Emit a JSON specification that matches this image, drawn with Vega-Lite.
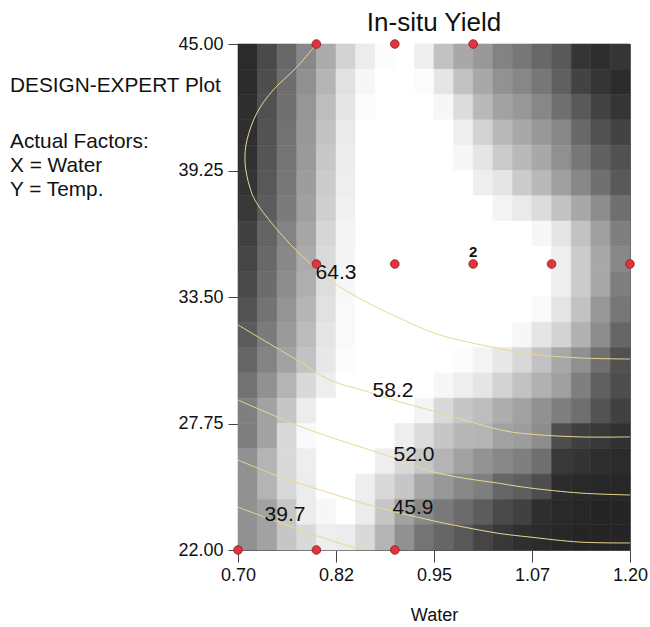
{
"$schema": "https://vega.github.io/schema/vega-lite/v6.json",
"width": 392, "height": 506,
"autosize": "none",
"padding": {"left": 238, "top": 44, "right": 20, "bottom": 77},
"config": {"font": "Liberation Sans", "view": {"stroke": "#666", "strokeWidth": 1}},
"title": {"text": "In-situ Yield", "fontSize": 26, "fontWeight": "normal", "anchor": "middle", "frame": "group", "baseline": "alphabetic", "offset": -22, "color": "#111"},
"datasets": {
"cells": [
{"water":0.7125,"temp":44.425,"shade":45},{"water":0.7375,"temp":44.425,"shade":80},{"water":0.7625,"temp":44.425,"shade":112},{"water":0.7875,"temp":44.425,"shade":145},{"water":0.8125,"temp":44.425,"shade":178},{"water":0.8375,"temp":44.425,"shade":215},{"water":0.8625,"temp":44.425,"shade":238},{"water":0.8875,"temp":44.425,"shade":252},{"water":0.9125,"temp":44.425,"shade":255},{"water":0.9375,"temp":44.425,"shade":240},{"water":0.9625,"temp":44.425,"shade":200},{"water":0.9875,"temp":44.425,"shade":176},{"water":1.0125,"temp":44.425,"shade":160},{"water":1.0375,"temp":44.425,"shade":140},{"water":1.0625,"temp":44.425,"shade":128},{"water":1.0875,"temp":44.425,"shade":112},{"water":1.1125,"temp":44.425,"shade":96},{"water":1.1375,"temp":44.425,"shade":56},{"water":1.1625,"temp":44.425,"shade":48},{"water":1.1875,"temp":44.425,"shade":56},
{"water":0.7125,"temp":43.275,"shade":45},{"water":0.7375,"temp":43.275,"shade":85},{"water":0.7625,"temp":43.275,"shade":118},{"water":0.7875,"temp":43.275,"shade":152},{"water":0.8125,"temp":43.275,"shade":188},{"water":0.8375,"temp":43.275,"shade":228},{"water":0.8625,"temp":43.275,"shade":248},{"water":0.8875,"temp":43.275,"shade":255},{"water":0.9125,"temp":43.275,"shade":255},{"water":0.9375,"temp":43.275,"shade":252},{"water":0.9625,"temp":43.275,"shade":232},{"water":0.9875,"temp":43.275,"shade":200},{"water":1.0125,"temp":43.275,"shade":176},{"water":1.0375,"temp":43.275,"shade":154},{"water":1.0625,"temp":43.275,"shade":144},{"water":1.0875,"temp":43.275,"shade":128},{"water":1.1125,"temp":43.275,"shade":104},{"water":1.1375,"temp":43.275,"shade":72},{"water":1.1625,"temp":43.275,"shade":56},{"water":1.1875,"temp":43.275,"shade":45},
{"water":0.7125,"temp":42.125,"shade":48},{"water":0.7375,"temp":42.125,"shade":88},{"water":0.7625,"temp":42.125,"shade":120},{"water":0.7875,"temp":42.125,"shade":158},{"water":0.8125,"temp":42.125,"shade":195},{"water":0.8375,"temp":42.125,"shade":232},{"water":0.8625,"temp":42.125,"shade":252},{"water":0.8875,"temp":42.125,"shade":255},{"water":0.9125,"temp":42.125,"shade":255},{"water":0.9375,"temp":42.125,"shade":255},{"water":0.9625,"temp":42.125,"shade":248},{"water":0.9875,"temp":42.125,"shade":224},{"water":1.0125,"temp":42.125,"shade":192},{"water":1.0375,"temp":42.125,"shade":170},{"water":1.0625,"temp":42.125,"shade":160},{"water":1.0875,"temp":42.125,"shade":144},{"water":1.1125,"temp":42.125,"shade":120},{"water":1.1375,"temp":42.125,"shade":96},{"water":1.1625,"temp":42.125,"shade":72},{"water":1.1875,"temp":42.125,"shade":56},
{"water":0.7125,"temp":40.975,"shade":50},{"water":0.7375,"temp":40.975,"shade":90},{"water":0.7625,"temp":40.975,"shade":122},{"water":0.7875,"temp":40.975,"shade":160},{"water":0.8125,"temp":40.975,"shade":200},{"water":0.8375,"temp":40.975,"shade":236},{"water":0.8625,"temp":40.975,"shade":255},{"water":0.8875,"temp":40.975,"shade":255},{"water":0.9125,"temp":40.975,"shade":255},{"water":0.9375,"temp":40.975,"shade":255},{"water":0.9625,"temp":40.975,"shade":255},{"water":0.9875,"temp":40.975,"shade":240},{"water":1.0125,"temp":40.975,"shade":216},{"water":1.0375,"temp":40.975,"shade":192},{"water":1.0625,"temp":40.975,"shade":176},{"water":1.0875,"temp":40.975,"shade":160},{"water":1.1125,"temp":40.975,"shade":144},{"water":1.1375,"temp":40.975,"shade":112},{"water":1.1625,"temp":40.975,"shade":88},{"water":1.1875,"temp":40.975,"shade":72},
{"water":0.7125,"temp":39.825,"shade":52},{"water":0.7375,"temp":39.825,"shade":92},{"water":0.7625,"temp":39.825,"shade":125},{"water":0.7875,"temp":39.825,"shade":162},{"water":0.8125,"temp":39.825,"shade":205},{"water":0.8375,"temp":39.825,"shade":238},{"water":0.8625,"temp":39.825,"shade":255},{"water":0.8875,"temp":39.825,"shade":255},{"water":0.9125,"temp":39.825,"shade":255},{"water":0.9375,"temp":39.825,"shade":255},{"water":0.9625,"temp":39.825,"shade":255},{"water":0.9875,"temp":39.825,"shade":248},{"water":1.0125,"temp":39.825,"shade":232},{"water":1.0375,"temp":39.825,"shade":208},{"water":1.0625,"temp":39.825,"shade":192},{"water":1.0875,"temp":39.825,"shade":176},{"water":1.1125,"temp":39.825,"shade":152},{"water":1.1375,"temp":39.825,"shade":128},{"water":1.1625,"temp":39.825,"shade":104},{"water":1.1875,"temp":39.825,"shade":88},
{"water":0.7125,"temp":38.675,"shade":55},{"water":0.7375,"temp":38.675,"shade":95},{"water":0.7625,"temp":38.675,"shade":128},{"water":0.7875,"temp":38.675,"shade":165},{"water":0.8125,"temp":38.675,"shade":208},{"water":0.8375,"temp":38.675,"shade":240},{"water":0.8625,"temp":38.675,"shade":255},{"water":0.8875,"temp":38.675,"shade":255},{"water":0.9125,"temp":38.675,"shade":255},{"water":0.9375,"temp":38.675,"shade":255},{"water":0.9625,"temp":38.675,"shade":255},{"water":0.9875,"temp":38.675,"shade":255},{"water":1.0125,"temp":38.675,"shade":240},{"water":1.0375,"temp":38.675,"shade":232},{"water":1.0625,"temp":38.675,"shade":208},{"water":1.0875,"temp":38.675,"shade":192},{"water":1.1125,"temp":38.675,"shade":168},{"water":1.1375,"temp":38.675,"shade":144},{"water":1.1625,"temp":38.675,"shade":120},{"water":1.1875,"temp":38.675,"shade":96},
{"water":0.7125,"temp":37.525,"shade":60},{"water":0.7375,"temp":37.525,"shade":100},{"water":0.7625,"temp":37.525,"shade":132},{"water":0.7875,"temp":37.525,"shade":168},{"water":0.8125,"temp":37.525,"shade":212},{"water":0.8375,"temp":37.525,"shade":242},{"water":0.8625,"temp":37.525,"shade":255},{"water":0.8875,"temp":37.525,"shade":255},{"water":0.9125,"temp":37.525,"shade":255},{"water":0.9375,"temp":37.525,"shade":255},{"water":0.9625,"temp":37.525,"shade":255},{"water":0.9875,"temp":37.525,"shade":255},{"water":1.0125,"temp":37.525,"shade":255},{"water":1.0375,"temp":37.525,"shade":245},{"water":1.0625,"temp":37.525,"shade":236},{"water":1.0875,"temp":37.525,"shade":224},{"water":1.1125,"temp":37.525,"shade":200},{"water":1.1375,"temp":37.525,"shade":176},{"water":1.1625,"temp":37.525,"shade":150},{"water":1.1875,"temp":37.525,"shade":120},
{"water":0.7125,"temp":36.375,"shade":70},{"water":0.7375,"temp":36.375,"shade":108},{"water":0.7625,"temp":36.375,"shade":140},{"water":0.7875,"temp":36.375,"shade":174},{"water":0.8125,"temp":36.375,"shade":218},{"water":0.8375,"temp":36.375,"shade":245},{"water":0.8625,"temp":36.375,"shade":255},{"water":0.8875,"temp":36.375,"shade":255},{"water":0.9125,"temp":36.375,"shade":255},{"water":0.9375,"temp":36.375,"shade":255},{"water":0.9625,"temp":36.375,"shade":255},{"water":0.9875,"temp":36.375,"shade":255},{"water":1.0125,"temp":36.375,"shade":255},{"water":1.0375,"temp":36.375,"shade":255},{"water":1.0625,"temp":36.375,"shade":255},{"water":1.0875,"temp":36.375,"shade":248},{"water":1.1125,"temp":36.375,"shade":232},{"water":1.1375,"temp":36.375,"shade":200},{"water":1.1625,"temp":36.375,"shade":168},{"water":1.1875,"temp":36.375,"shade":136},
{"water":0.7125,"temp":35.225,"shade":75},{"water":0.7375,"temp":35.225,"shade":112},{"water":0.7625,"temp":35.225,"shade":145},{"water":0.7875,"temp":35.225,"shade":178},{"water":0.8125,"temp":35.225,"shade":222},{"water":0.8375,"temp":35.225,"shade":246},{"water":0.8625,"temp":35.225,"shade":255},{"water":0.8875,"temp":35.225,"shade":255},{"water":0.9125,"temp":35.225,"shade":255},{"water":0.9375,"temp":35.225,"shade":255},{"water":0.9625,"temp":35.225,"shade":255},{"water":0.9875,"temp":35.225,"shade":255},{"water":1.0125,"temp":35.225,"shade":255},{"water":1.0375,"temp":35.225,"shade":255},{"water":1.0625,"temp":35.225,"shade":255},{"water":1.0875,"temp":35.225,"shade":255},{"water":1.1125,"temp":35.225,"shade":240},{"water":1.1375,"temp":35.225,"shade":208},{"water":1.1625,"temp":35.225,"shade":176},{"water":1.1875,"temp":35.225,"shade":144},
{"water":0.7125,"temp":34.075,"shade":80},{"water":0.7375,"temp":34.075,"shade":116},{"water":0.7625,"temp":34.075,"shade":150},{"water":0.7875,"temp":34.075,"shade":182},{"water":0.8125,"temp":34.075,"shade":225},{"water":0.8375,"temp":34.075,"shade":248},{"water":0.8625,"temp":34.075,"shade":255},{"water":0.8875,"temp":34.075,"shade":255},{"water":0.9125,"temp":34.075,"shade":255},{"water":0.9375,"temp":34.075,"shade":255},{"water":0.9625,"temp":34.075,"shade":255},{"water":0.9875,"temp":34.075,"shade":255},{"water":1.0125,"temp":34.075,"shade":255},{"water":1.0375,"temp":34.075,"shade":255},{"water":1.0625,"temp":34.075,"shade":255},{"water":1.0875,"temp":34.075,"shade":255},{"water":1.1125,"temp":34.075,"shade":240},{"water":1.1375,"temp":34.075,"shade":208},{"water":1.1625,"temp":34.075,"shade":176},{"water":1.1875,"temp":34.075,"shade":136},
{"water":0.7125,"temp":32.925,"shade":90},{"water":0.7375,"temp":32.925,"shade":124},{"water":0.7625,"temp":32.925,"shade":156},{"water":0.7875,"temp":32.925,"shade":188},{"water":0.8125,"temp":32.925,"shade":228},{"water":0.8375,"temp":32.925,"shade":250},{"water":0.8625,"temp":32.925,"shade":255},{"water":0.8875,"temp":32.925,"shade":255},{"water":0.9125,"temp":32.925,"shade":255},{"water":0.9375,"temp":32.925,"shade":255},{"water":0.9625,"temp":32.925,"shade":255},{"water":0.9875,"temp":32.925,"shade":255},{"water":1.0125,"temp":32.925,"shade":255},{"water":1.0375,"temp":32.925,"shade":255},{"water":1.0625,"temp":32.925,"shade":255},{"water":1.0875,"temp":32.925,"shade":250},{"water":1.1125,"temp":32.925,"shade":232},{"water":1.1375,"temp":32.925,"shade":200},{"water":1.1625,"temp":32.925,"shade":160},{"water":1.1875,"temp":32.925,"shade":128},
{"water":0.7125,"temp":31.775,"shade":100},{"water":0.7375,"temp":31.775,"shade":132},{"water":0.7625,"temp":31.775,"shade":162},{"water":0.7875,"temp":31.775,"shade":194},{"water":0.8125,"temp":31.775,"shade":232},{"water":0.8375,"temp":31.775,"shade":250},{"water":0.8625,"temp":31.775,"shade":255},{"water":0.8875,"temp":31.775,"shade":255},{"water":0.9125,"temp":31.775,"shade":255},{"water":0.9375,"temp":31.775,"shade":255},{"water":0.9625,"temp":31.775,"shade":255},{"water":0.9875,"temp":31.775,"shade":255},{"water":1.0125,"temp":31.775,"shade":255},{"water":1.0375,"temp":31.775,"shade":255},{"water":1.0625,"temp":31.775,"shade":248},{"water":1.0875,"temp":31.775,"shade":232},{"water":1.1125,"temp":31.775,"shade":216},{"water":1.1375,"temp":31.775,"shade":184},{"water":1.1625,"temp":31.775,"shade":150},{"water":1.1875,"temp":31.775,"shade":110},
{"water":0.7125,"temp":30.625,"shade":110},{"water":0.7375,"temp":30.625,"shade":140},{"water":0.7625,"temp":30.625,"shade":170},{"water":0.7875,"temp":30.625,"shade":200},{"water":0.8125,"temp":30.625,"shade":235},{"water":0.8375,"temp":30.625,"shade":252},{"water":0.8625,"temp":30.625,"shade":255},{"water":0.8875,"temp":30.625,"shade":255},{"water":0.9125,"temp":30.625,"shade":255},{"water":0.9375,"temp":30.625,"shade":255},{"water":0.9625,"temp":30.625,"shade":255},{"water":0.9875,"temp":30.625,"shade":252},{"water":1.0125,"temp":30.625,"shade":245},{"water":1.0375,"temp":30.625,"shade":235},{"water":1.0625,"temp":30.625,"shade":220},{"water":1.0875,"temp":30.625,"shade":200},{"water":1.1125,"temp":30.625,"shade":176},{"water":1.1375,"temp":30.625,"shade":152},{"water":1.1625,"temp":30.625,"shade":120},{"water":1.1875,"temp":30.625,"shade":88},
{"water":0.7125,"temp":29.475,"shade":122},{"water":0.7375,"temp":29.475,"shade":153},{"water":0.7625,"temp":29.475,"shade":187},{"water":0.7875,"temp":29.475,"shade":221},{"water":0.8125,"temp":29.475,"shade":240},{"water":0.8375,"temp":29.475,"shade":255},{"water":0.8625,"temp":29.475,"shade":255},{"water":0.8875,"temp":29.475,"shade":255},{"water":0.9125,"temp":29.475,"shade":255},{"water":0.9375,"temp":29.475,"shade":255},{"water":0.9625,"temp":29.475,"shade":248},{"water":0.9875,"temp":29.475,"shade":240},{"water":1.0125,"temp":29.475,"shade":232},{"water":1.0375,"temp":29.475,"shade":216},{"water":1.0625,"temp":29.475,"shade":200},{"water":1.0875,"temp":29.475,"shade":184},{"water":1.1125,"temp":29.475,"shade":168},{"water":1.1375,"temp":29.475,"shade":136},{"water":1.1625,"temp":29.475,"shade":104},{"water":1.1875,"temp":29.475,"shade":85},
{"water":0.7125,"temp":28.325,"shade":136},{"water":0.7375,"temp":28.325,"shade":170},{"water":0.7625,"temp":28.325,"shade":204},{"water":0.7875,"temp":28.325,"shade":238},{"water":0.8125,"temp":28.325,"shade":255},{"water":0.8375,"temp":28.325,"shade":255},{"water":0.8625,"temp":28.325,"shade":255},{"water":0.8875,"temp":28.325,"shade":255},{"water":0.9125,"temp":28.325,"shade":255},{"water":0.9375,"temp":28.325,"shade":245},{"water":0.9625,"temp":28.325,"shade":221},{"water":0.9875,"temp":28.325,"shade":204},{"water":1.0125,"temp":28.325,"shade":195},{"water":1.0375,"temp":28.325,"shade":180},{"water":1.0625,"temp":28.325,"shade":170},{"water":1.0875,"temp":28.325,"shade":153},{"water":1.1125,"temp":28.325,"shade":136},{"water":1.1375,"temp":28.325,"shade":119},{"water":1.1625,"temp":28.325,"shade":90},{"water":1.1875,"temp":28.325,"shade":70},
{"water":0.7125,"temp":27.175,"shade":136},{"water":0.7375,"temp":27.175,"shade":170},{"water":0.7625,"temp":27.175,"shade":221},{"water":0.7875,"temp":27.175,"shade":250},{"water":0.8125,"temp":27.175,"shade":255},{"water":0.8375,"temp":27.175,"shade":255},{"water":0.8625,"temp":27.175,"shade":255},{"water":0.8875,"temp":27.175,"shade":255},{"water":0.9125,"temp":27.175,"shade":240},{"water":0.9375,"temp":27.175,"shade":224},{"water":0.9625,"temp":27.175,"shade":204},{"water":0.9875,"temp":27.175,"shade":190},{"water":1.0125,"temp":27.175,"shade":187},{"water":1.0375,"temp":27.175,"shade":170},{"water":1.0625,"temp":27.175,"shade":165},{"water":1.0875,"temp":27.175,"shade":150},{"water":1.1125,"temp":27.175,"shade":85},{"water":1.1375,"temp":27.175,"shade":68},{"water":1.1625,"temp":27.175,"shade":60},{"water":1.1875,"temp":27.175,"shade":52},
{"water":0.7125,"temp":26.025,"shade":153},{"water":0.7375,"temp":26.025,"shade":187},{"water":0.7625,"temp":26.025,"shade":221},{"water":0.7875,"temp":26.025,"shade":240},{"water":0.8125,"temp":26.025,"shade":255},{"water":0.8375,"temp":26.025,"shade":255},{"water":0.8625,"temp":26.025,"shade":255},{"water":0.8875,"temp":26.025,"shade":240},{"water":0.9125,"temp":26.025,"shade":221},{"water":0.9375,"temp":26.025,"shade":205},{"water":0.9625,"temp":26.025,"shade":187},{"water":0.9875,"temp":26.025,"shade":170},{"water":1.0125,"temp":26.025,"shade":155},{"water":1.0375,"temp":26.025,"shade":145},{"water":1.0625,"temp":26.025,"shade":136},{"water":1.0875,"temp":26.025,"shade":119},{"water":1.1125,"temp":26.025,"shade":60},{"water":1.1375,"temp":26.025,"shade":55},{"water":1.1625,"temp":26.025,"shade":48},{"water":1.1875,"temp":26.025,"shade":45},
{"water":0.7125,"temp":24.875,"shade":153},{"water":0.7375,"temp":24.875,"shade":187},{"water":0.7625,"temp":24.875,"shade":221},{"water":0.7875,"temp":24.875,"shade":238},{"water":0.8125,"temp":24.875,"shade":255},{"water":0.8375,"temp":24.875,"shade":255},{"water":0.8625,"temp":24.875,"shade":240},{"water":0.8875,"temp":24.875,"shade":221},{"water":0.9125,"temp":24.875,"shade":204},{"water":0.9375,"temp":24.875,"shade":175},{"water":0.9625,"temp":24.875,"shade":160},{"water":0.9875,"temp":24.875,"shade":145},{"water":1.0125,"temp":24.875,"shade":135},{"water":1.0375,"temp":24.875,"shade":110},{"water":1.0625,"temp":24.875,"shade":102},{"water":1.0875,"temp":24.875,"shade":85},{"water":1.1125,"temp":24.875,"shade":45},{"water":1.1375,"temp":24.875,"shade":42},{"water":1.1625,"temp":24.875,"shade":40},{"water":1.1875,"temp":24.875,"shade":40},
{"water":0.7125,"temp":23.725,"shade":153},{"water":0.7375,"temp":23.725,"shade":170},{"water":0.7625,"temp":23.725,"shade":204},{"water":0.7875,"temp":23.725,"shade":238},{"water":0.8125,"temp":23.725,"shade":248},{"water":0.8375,"temp":23.725,"shade":255},{"water":0.8625,"temp":23.725,"shade":238},{"water":0.8875,"temp":23.725,"shade":204},{"water":0.9125,"temp":23.725,"shade":170},{"water":0.9375,"temp":23.725,"shade":145},{"water":0.9625,"temp":23.725,"shade":130},{"water":0.9875,"temp":23.725,"shade":115},{"water":1.0125,"temp":23.725,"shade":100},{"water":1.0375,"temp":23.725,"shade":80},{"water":1.0625,"temp":23.725,"shade":70},{"water":1.0875,"temp":23.725,"shade":48},{"water":1.1125,"temp":23.725,"shade":42},{"water":1.1375,"temp":23.725,"shade":40},{"water":1.1625,"temp":23.725,"shade":38},{"water":1.1875,"temp":23.725,"shade":38},
{"water":0.7125,"temp":22.575,"shade":153},{"water":0.7375,"temp":22.575,"shade":170},{"water":0.7625,"temp":22.575,"shade":204},{"water":0.7875,"temp":22.575,"shade":221},{"water":0.8125,"temp":22.575,"shade":240},{"water":0.8375,"temp":22.575,"shade":238},{"water":0.8625,"temp":22.575,"shade":221},{"water":0.8875,"temp":22.575,"shade":187},{"water":0.9125,"temp":22.575,"shade":153},{"water":0.9375,"temp":22.575,"shade":125},{"water":0.9625,"temp":22.575,"shade":110},{"water":0.9875,"temp":22.575,"shade":95},{"water":1.0125,"temp":22.575,"shade":75},{"water":1.0375,"temp":22.575,"shade":60},{"water":1.0625,"temp":22.575,"shade":50},{"water":1.0875,"temp":22.575,"shade":45},{"water":1.1125,"temp":22.575,"shade":40},{"water":1.1375,"temp":22.575,"shade":38},{"water":1.1625,"temp":22.575,"shade":38},{"water":1.1875,"temp":22.575,"shade":38}
],
"contours": [
{"level":"64.3","o":0,"water":0.80,"temp":45.0},{"level":"64.3","o":1,"water":0.775,"temp":43.95},{"level":"64.3","o":2,"water":0.745,"temp":42.91},{"level":"64.3","o":3,"water":0.724,"temp":41.86},{"level":"64.3","o":4,"water":0.7115,"temp":40.64},{"level":"64.3","o":5,"water":0.709,"temp":39.59},{"level":"64.3","o":6,"water":0.715,"temp":38.5},{"level":"64.3","o":7,"water":0.7255,"temp":37.68},{"level":"64.3","o":8,"water":0.7536,"temp":36.41},{"level":"64.3","o":9,"water":0.783,"temp":35.32},{"level":"64.3","o":10,"water":0.817,"temp":34.27},{"level":"64.3","o":11,"water":0.859,"temp":33.36},{"level":"64.3","o":12,"water":0.903,"temp":32.59},{"level":"64.3","o":13,"water":0.958,"temp":31.77},{"level":"64.3","o":14,"water":1.03,"temp":31.18},{"level":"64.3","o":15,"water":1.072,"temp":30.91},{"level":"64.3","o":16,"water":1.136,"temp":30.73},{"level":"64.3","o":17,"water":1.2,"temp":30.68},
{"level":"58.2","o":0,"water":0.70,"temp":32.23},{"level":"58.2","o":1,"water":0.732,"temp":31.55},{"level":"58.2","o":2,"water":0.775,"temp":30.64},{"level":"58.2","o":3,"water":0.817,"temp":29.73},{"level":"58.2","o":4,"water":0.862,"temp":29.23},{"level":"58.2","o":5,"water":0.907,"temp":28.73},{"level":"58.2","o":6,"water":0.958,"temp":28.23},{"level":"58.2","o":7,"water":1.03,"temp":27.5},{"level":"58.2","o":8,"water":1.072,"temp":27.27},{"level":"58.2","o":9,"water":1.136,"temp":27.14},{"level":"58.2","o":10,"water":1.2,"temp":27.14},
{"level":"52.0","o":0,"water":0.70,"temp":28.82},{"level":"52.0","o":1,"water":0.732,"temp":28.32},{"level":"52.0","o":2,"water":0.775,"temp":27.68},{"level":"52.0","o":3,"water":0.817,"temp":27.14},{"level":"52.0","o":4,"water":0.868,"temp":26.55},{"level":"52.0","o":5,"water":0.907,"temp":26.09},{"level":"52.0","o":6,"water":0.945,"temp":25.59},{"level":"52.0","o":7,"water":0.987,"temp":25.27},{"level":"52.0","o":8,"water":1.03,"temp":25.05},{"level":"52.0","o":9,"water":1.072,"temp":24.82},{"level":"52.0","o":10,"water":1.136,"temp":24.59},{"level":"52.0","o":11,"water":1.2,"temp":24.5},
{"level":"45.9","o":0,"water":0.70,"temp":26.09},{"level":"45.9","o":1,"water":0.754,"temp":25.32},{"level":"45.9","o":2,"water":0.817,"temp":24.59},{"level":"45.9","o":3,"water":0.881,"temp":23.91},{"level":"45.9","o":4,"water":0.945,"temp":23.36},{"level":"45.9","o":5,"water":0.987,"temp":23.05},{"level":"45.9","o":6,"water":1.03,"temp":22.77},{"level":"45.9","o":7,"water":1.072,"temp":22.59},{"level":"45.9","o":8,"water":1.136,"temp":22.36},{"level":"45.9","o":9,"water":1.2,"temp":22.32},
{"level":"39.7","o":0,"water":0.70,"temp":23.95},{"level":"39.7","o":1,"water":0.754,"temp":23.23},{"level":"39.7","o":2,"water":0.817,"temp":22.45},{"level":"39.7","o":3,"water":0.859,"temp":22.0}
],
"contourLabels": [
{"label":"64.3","water":0.825,"temp":34.57},{"label":"58.2","water":0.8977,"temp":29.23},{"label":"52.0","water":0.9245,"temp":26.3},{"label":"45.9","water":0.9232,"temp":23.91},{"label":"39.7","water":0.76,"temp":23.59}
],
"runs": [
{"water":0.8,"temp":45},{"water":0.9,"temp":45},{"water":1.0,"temp":45},{"water":0.8,"temp":35},{"water":0.9,"temp":35},{"water":1.0,"temp":35},{"water":1.1,"temp":35},{"water":1.2,"temp":35},{"water":0.7,"temp":22},{"water":0.8,"temp":22},{"water":0.9,"temp":22}
],
"replicates": [{"water":1.0,"temp":35,"count":"2"}],
"notes": [
{"text":"DESIGN-EXPERT Plot","water":0.4092,"temp":42.818},{"text":"Actual Factors:","water":0.4092,"temp":40.273},{"text":"X = Water","water":0.4092,"temp":39.182},{"text":"Y = Temp.","water":0.4092,"temp":38.091}
]
},
"layer": [
{
"data": {"name": "cells"},
"mark": {"type": "rect", "strokeWidth": 0.6},
"encoding": {
"x": {"field": "water", "type": "ordinal", "axis": null, "scale": {"paddingInner": 0, "paddingOuter": 0}},
"y": {"field": "temp", "type": "ordinal", "axis": null, "sort": "descending", "scale": {"paddingInner": 0, "paddingOuter": 0}},
"color": {"field": "shade", "type": "quantitative", "scale": {"domain": [0, 255], "range": ["#000000", "#ffffff"]}, "legend": null},
"stroke": {"field": "shade", "type": "quantitative", "scale": {"domain": [0, 255], "range": ["#000000", "#ffffff"]}, "legend": null}
}
},
{
"encoding": {
"x": {"field": "water", "type": "quantitative", "scale": {"domain": [0.7, 1.2], "nice": false, "zero": false},
 "axis": {"values": [0.7, 0.825, 0.95, 1.075, 1.2], "format": ".2f", "tickSize": 12, "labelPadding": 4, "labelFontSize": 18, "labelFlush": false, "labelColor": "#111", "title": "Water", "titleFontSize": 18, "titleFontWeight": "normal", "titleColor": "#111", "titlePadding": 22, "grid": false, "domainColor": "#555", "tickColor": "#444"}},
"y": {"field": "temp", "type": "quantitative", "scale": {"domain": [22, 45], "nice": false, "zero": false},
 "axis": {"values": [22, 27.75, 33.5, 39.25, 45], "format": ".2f", "tickSize": 10, "labelPadding": 5, "labelFontSize": 18, "labelColor": "#111", "title": null, "grid": false, "domainColor": "#333", "tickColor": "#444"}}
},
"layer": [
{"data": {"name": "contours"}, "mark": {"type": "line", "color": "#e9d98f", "strokeWidth": 1, "interpolate": "cardinal", "clip": true},
 "encoding": {"detail": {"field": "level"}, "order": {"field": "o", "type": "quantitative"}}},
{"data": {"name": "contourLabels"}, "mark": {"type": "text", "fontSize": 21, "color": "#111", "align": "center", "baseline": "middle"},
 "encoding": {"text": {"field": "label"}}},
{"data": {"name": "runs"}, "mark": {"type": "point", "shape": "circle", "filled": true, "size": 75, "color": "#e2333f", "stroke": "#8a1a1a", "strokeWidth": 0.8, "opacity": 1, "clip": false},
 "encoding": {}},
{"data": {"name": "replicates"}, "mark": {"type": "text", "fontSize": 15, "fontWeight": "bold", "color": "#111", "dy": -12, "align": "center", "baseline": "middle"},
 "encoding": {"text": {"field": "count"}}},
{"data": {"name": "notes"}, "mark": {"type": "text", "fontSize": 20.8, "color": "#111", "align": "left", "baseline": "alphabetic"},
 "encoding": {"text": {"field": "text"}}}
]
}
],
"resolve": {"scale": {"x": "independent", "y": "independent", "color": "independent", "stroke": "independent"}}
}
